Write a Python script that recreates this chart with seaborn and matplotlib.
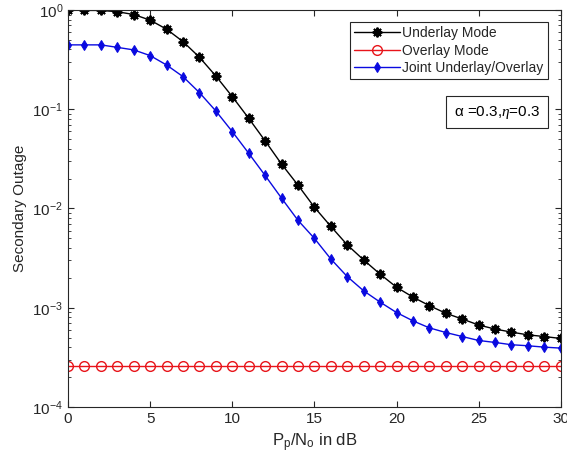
import numpy as np
import pandas as pd
import seaborn as sns
import matplotlib.pyplot as plt
from matplotlib.ticker import LogLocator, NullFormatter

# SNR axis (dB)
snr_db = list(range(0, 31))

underlay = [1.0, 0.99, 0.99, 0.96, 0.90, 0.79, 0.64, 0.48, 0.334, 0.216,
            0.134, 0.081, 0.048, 0.028, 0.0172, 0.0103, 0.0066, 0.0043, 0.00303, 0.00218,
            0.00161, 0.00128, 0.00105, 0.00088, 0.00077, 0.00067, 0.00061, 0.000568, 0.000533, 0.000513,
            0.00049]
overlay = [2.56e-4] * 31
joint = [0.445, 0.445, 0.445, 0.42, 0.396, 0.347, 0.279, 0.213, 0.147, 0.096,
         0.0595, 0.036, 0.0215, 0.0127, 0.0076, 0.0050, 0.0031, 0.00206, 0.00148, 0.00114,
         0.000895, 0.000738, 0.000627, 0.000563, 0.000513, 0.000468, 0.000447, 0.000424, 0.000414, 0.000401,
         0.000392]

labels = ['Underlay Mode', 'Overlay Mode', 'Joint Underlay/Overlay']

df = pd.DataFrame({'snr': snr_db, labels[0]: underlay, labels[1]: overlay, labels[2]: joint})

sns.set_style('ticks')
plt.rcParams['font.family'] = ['Liberation Sans', 'DejaVu Sans']
plt.rcParams['mathtext.fontset'] = 'custom'
plt.rcParams['mathtext.rm'] = 'Liberation Sans'
plt.rcParams['mathtext.it'] = 'Liberation Serif:italic'

fig = plt.figure(figsize=(5.67, 4.66), dpi=100)
ax = fig.add_axes([0.12, 0.1266, 0.869, 0.852])

# matlab style asterisk
sns.lineplot(data=df, x='snr', y=labels[0], ax=ax, color='black', marker=(8, 2, 0),
             markersize=7, markeredgecolor='black', markeredgewidth=1.4,
             linewidth=1, label=labels[0])
sns.lineplot(data=df, x='snr', y=labels[1], ax=ax, color='#e8141a', marker='o',
             markersize=7, markeredgecolor='#e8141a', markerfacecolor='none',
             markeredgewidth=1, linewidth=1, label=labels[1])
sns.lineplot(data=df, x='snr', y=labels[2], ax=ax, color='#0a0ae0', marker='d',
             markersize=5.5, markeredgecolor='#0a0ae0', markerfacecolor='#0a0ae0',
             linewidth=1, label=labels[2])

ax.set_yscale('log')
ax.set_xlim(0, 30)
ax.set_ylim(1e-4, 1)
ax.set_xticks([0, 5, 10, 15, 20, 25, 30])
ax.yaxis.set_major_locator(LogLocator(base=10, numticks=10))
ax.yaxis.set_minor_locator(LogLocator(base=10, subs=np.arange(2, 10), numticks=10))
ax.yaxis.set_minor_formatter(NullFormatter())

axc = '#262626'
for s in ax.spines.values():
    s.set_visible(True)
    s.set_color(axc)
    s.set_linewidth(0.8)
ax.tick_params(which='both', direction='in', top=True, right=True, colors=axc,
               labelcolor=axc, labelsize=11)
ax.tick_params(which='major', length=4)
ax.tick_params(which='minor', length=2)

ax.set_xlabel('P$_\\mathregular{p}$/N$_\\mathregular{o}$ in dB', fontsize=12, color=axc)
ax.set_ylabel('Secondary Outage', fontsize=11, color=axc)

leg = ax.legend(loc='upper right', bbox_to_anchor=(0.9736, 0.97), fancybox=False,
                framealpha=1, edgecolor=axc, fontsize=10, handlelength=3.3,
                borderpad=0.3, labelspacing=0.25, handletextpad=0.15, borderaxespad=0)
leg.get_frame().set_linewidth(0.8)

ax.text(0.958, 0.743, 'α =0.3,$\\eta$=0.3', transform=ax.transAxes, ha='right', va='center',
        fontsize=11, color='black',
        bbox=dict(boxstyle='square,pad=0.5', facecolor='white', edgecolor=axc, linewidth=0.8))

plt.savefig('out.png', dpi=100)
